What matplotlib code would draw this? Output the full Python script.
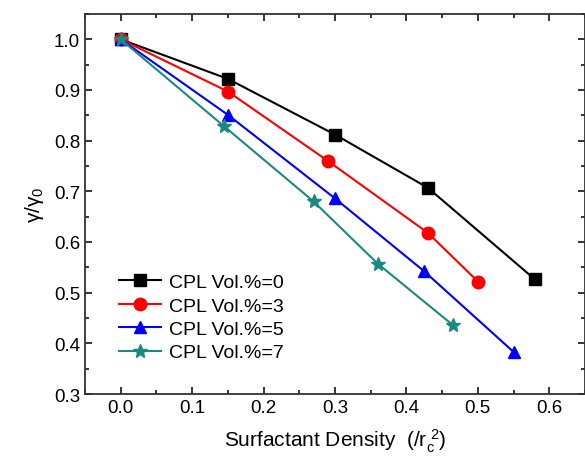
import matplotlib
matplotlib.use('Agg')
import matplotlib.pyplot as plt
from matplotlib.ticker import MultipleLocator

plt.rcParams['font.family'] = ['Liberation Sans', 'DejaVu Sans']
plt.rcParams['mathtext.fontset'] = 'custom'
plt.rcParams['mathtext.rm'] = 'Liberation Sans'
plt.rcParams['mathtext.it'] = 'Liberation Sans'

labels = ['CPL Vol.%=0', 'CPL Vol.%=3', 'CPL Vol.%=5', 'CPL Vol.%=7']
x0 = [0.0, 0.15, 0.30, 0.43, 0.58]
y0 = [1.0, 0.922, 0.812, 0.707, 0.526]
x3 = [0.0, 0.15, 0.29, 0.43, 0.50]
y3 = [1.0, 0.897, 0.760, 0.618, 0.522]
x5 = [0.0, 0.15, 0.30, 0.425, 0.55]
y5 = [1.0, 0.851, 0.686, 0.542, 0.383]
x7 = [0.0, 0.145, 0.27, 0.36, 0.465]
y7 = [1.0, 0.828, 0.680, 0.557, 0.436]

fig = plt.figure(figsize=(5.85, 4.64), dpi=100)
ax = fig.add_axes([85/585, 1 - 395/464, 500/585, 380/464])

ax.plot(x0, y0, color='black', marker='s', markersize=8, lw=1.5, label=labels[0])
ax.plot(x3, y3, color='red', marker='o', markersize=9, lw=1.5, label=labels[1])
ax.plot(x5, y5, color='blue', marker='^', markersize=9, lw=1.5, label=labels[2])
ax.plot(x7, y7, color='#1a8a80', marker='*', markersize=10, lw=1.5, label=labels[3])

ax.set_xlim(-0.05, 0.65)
ax.set_ylim(0.3, 1.05)
ax.xaxis.set_major_locator(MultipleLocator(0.1))
ax.xaxis.set_minor_locator(MultipleLocator(0.05))
ax.yaxis.set_major_locator(MultipleLocator(0.1))
ax.yaxis.set_minor_locator(MultipleLocator(0.05))
ax.tick_params(which='both', direction='in', top=True, right=True, labelsize=13.5, width=1.1)
ax.tick_params(which='major', length=5)
ax.tick_params(which='minor', length=3)
for s in ax.spines.values():
    s.set_linewidth(1.3)
    s.set_color('#333333')

ax.set_xlabel(r'Surfactant Density  ($/$r$_c^{\ 2}$)', fontsize=15, labelpad=8)
ax.set_ylabel(r'γ/γ$_0$', fontsize=15, labelpad=6)

ax.legend(loc='lower left', bbox_to_anchor=(0.04, 0.05), frameon=False, fontsize=14,
          handlelength=2.2, labelspacing=0.3, borderpad=0.2, handletextpad=0.4)

fig.savefig('out.png', dpi=100)
